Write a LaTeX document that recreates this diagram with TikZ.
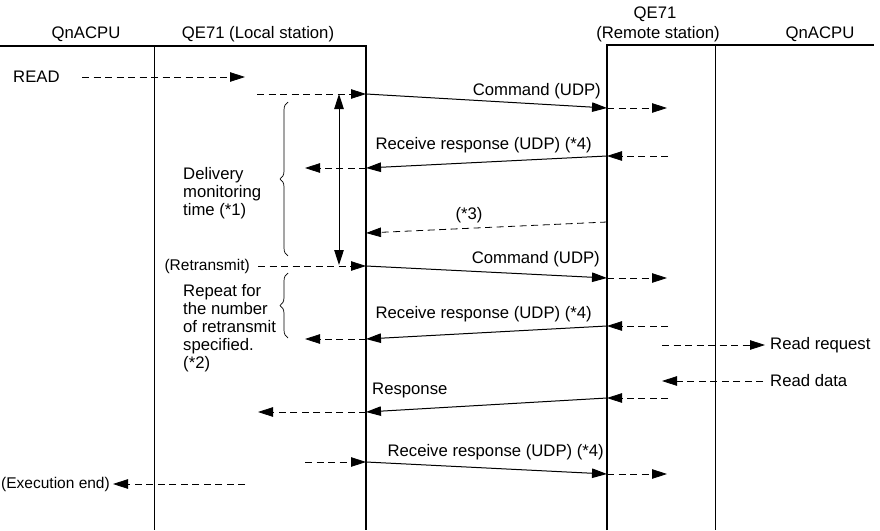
\documentclass[tikz,border=0pt]{standalone}
\usepackage{fontspec}
\setmainfont{Liberation Sans}
\usetikzlibrary{arrows.meta}
\usetikzlibrary{decorations.pathreplacing}
\newcommand{\tri}{{Triangle[length=15pt,width=9.5pt]}}
% local hop, relayed message and remote hop in one go
\newcommand{\relay}[1]{%
  \draw[dashline, -\tri] (#1a) -- (#1b);
  \draw[msgline, -\tri] (#1b) -- (#1c);
  \draw[dashline, -\tri] (#1c) -- (#1d);}

\begin{document}
\begin{tikzpicture}[x=1pt, y=-1pt,
  every node/.style={font=\fontsize{16.7}{18}\selectfont, inner sep=0pt},
  small/.style={font=\fontsize{15.5}{18}\selectfont},
  dashline/.style={line width=0.8pt, dash pattern=on 7pt off 4.5pt},
  msgline/.style={line width=1pt},
  lifeline/.style={line width=1.3pt},
  thinline/.style={line width=0.7pt},
  brc/.style={decorate, decoration={brace, amplitude=8pt}, line width=0.7pt}]
\useasboundingbox (0,0) rectangle (880,530);

% ---- headers and lifelines ----
\node (cpuL) at (86,34) {QnACPU};
\node (qeL) at (258,34) {QE71 (Local station)};
\node (qeRt) at (655,14) {QE71};
\node (qeR) at (658,34) {(Remote station)};
\node (cpuR) at (820,34) {QnACPU};
\draw[lifeline] (0,46) -- (366,46) -- (366,530);
\draw[lifeline] (607,530) -- (607,45) -- (874,45);
\draw[thinline] (154,46) -- (154,530);
\draw[thinline] (715,45) -- (715,530);

% ---- READ ----
\node[anchor=west] (read) at (13,77) {READ};
\coordinate (r0) at (82,77);
\coordinate (r1) at (245,77);
\draw[dashline, -\tri] (r0) -- (r1);

% ---- first command ----
\coordinate (cmda) at (257,94);  \coordinate (cmdb) at (366,94);
\coordinate (cmdc) at (607,108); \coordinate (cmdd) at (667,108);
\relay{cmd}
\node[anchor=east] (cmdtxt) at (601,91) {Command (UDP)};

% ---- delivery monitoring time ----
\coordinate (mt) at (339,94);
\coordinate (mb) at (339,265);
\draw[msgline, \tri-\tri] (mt) -- (mb);
\draw[brc] (288,256) -- (288,102);
\node[anchor=north west, align=left] (dmt) at (183,167)
  {Delivery\\monitoring\\time (*1)};

% ---- first receive response ----
\coordinate (rsa) at (668,156); \coordinate (rsb) at (607,156);
\coordinate (rsc) at (366,168); \coordinate (rsd) at (305,168);
\relay{rs}
\node[anchor=east] (rstxt) at (592,145) {Receive response (UDP) (*4)};

% ---- (*3) ----
\coordinate (s3a) at (607,222);
\coordinate (s3b) at (366,233);
\draw[dashline, -\tri] (s3a) -- (s3b);
\node (s3txt) at (469,215) {(*3)};

% ---- retransmit ----
\node[small, anchor=east] (retr) at (250,266) {(Retransmit)};
\coordinate (rta) at (258,266); \coordinate (rtb) at (366,266);
\coordinate (rtc) at (607,278); \coordinate (rtd) at (667,278);
\relay{rt}
\node[anchor=east] (rttxt) at (600,259) {Command (UDP)};
\draw[brc] (288,338) -- (288,273);
\node[anchor=north west, align=left] (rep) at (183,284)
  {Repeat for\\the number\\of retransmit\\specified.\\(*2)};

% ---- second receive response ----
\coordinate (rva) at (668,326); \coordinate (rvb) at (607,326);
\coordinate (rvc) at (366,339); \coordinate (rvd) at (305,339);
\relay{rv}
\node[anchor=east] (rvtxt) at (592,314) {Receive response (UDP) (*4)};

% ---- read request / read data ----
\node[anchor=west] (rq) at (770,345) {Read request};
\coordinate (rq0) at (662,345);
\coordinate (rq1) at (765,345);
\draw[dashline, -\tri] (rq0) -- (rq1);
\node[anchor=west] (rd) at (770,381) {Read data};
\coordinate (rd0) at (763,381);
\coordinate (rd1) at (662,381);
\draw[dashline, -\tri] (rd0) -- (rd1);

% ---- response ----
\coordinate (rpa) at (668,398); \coordinate (rpb) at (607,398);
\coordinate (rpc) at (366,412); \coordinate (rpd) at (258,412);
\relay{rp}
\node[anchor=west] (rptxt) at (372,390) {Response};

% ---- third receive response ----
\coordinate (rwa) at (305,462); \coordinate (rwb) at (366,462);
\coordinate (rwc) at (607,474); \coordinate (rwd) at (667,474);
\relay{rw}
\node[anchor=east] (rwtxt) at (604,452) {Receive response (UDP) (*4)};

% ---- execution end ----
\node[small, anchor=east] (ee) at (110,484) {(Execution end)};
\coordinate (ee0) at (245,484);
\coordinate (ee1) at (113,484);
\draw[dashline, -\tri] (ee0) -- (ee1);

\end{tikzpicture}
\end{document}
